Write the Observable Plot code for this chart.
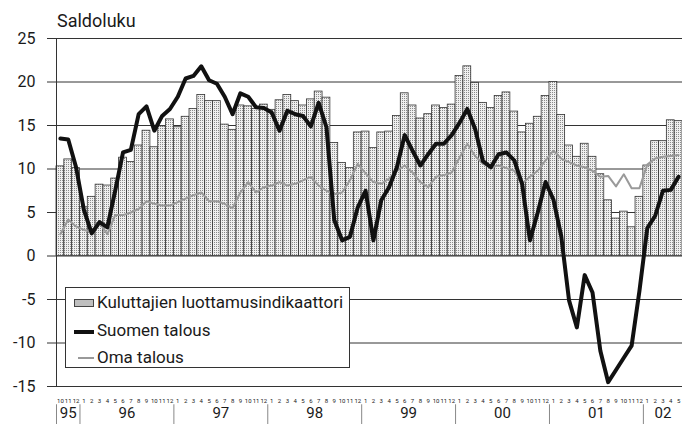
<!DOCTYPE html>
<html><head><meta charset="utf-8">
<script src="https://cdn.jsdelivr.net/npm/d3@7"></script>
<script src="https://cdn.jsdelivr.net/npm/@observablehq/plot@0.6"></script>
<style>
body{margin:0;background:#fff;overflow:hidden;font-family:Roboto,"Liberation Sans",sans-serif;color:#1a1a1a;}
#wrap{position:relative;width:682px;height:424px;}
#title{height:30px;box-sizing:border-box;padding-left:57px;padding-top:12px;font-size:18px;line-height:18px;}
#legend{position:absolute;left:65px;top:287px;width:285px;height:81px;box-sizing:border-box;border:1px solid #333;background:#fff;}
#legend .t{position:absolute;left:31px;font-size:17px;line-height:17px;white-space:nowrap;}
#legend .sw{position:absolute;}
</style></head><body>
<div id="wrap">
<div id="title">Saldoluku</div>
<div id="chart"></div>
<div id="legend">
  <div class="sw" style="left:8px;top:11px;width:20px;height:8px;border:1px solid #444;box-sizing:border-box;background:#eee radial-gradient(#888 0.6px, transparent 0.8px);background-size:2px 2px;"></div>
  <div class="t" style="top:6px">Kuluttajien luottamusindikaattori</div>
  <div class="sw" style="left:8px;top:42px;width:20px;height:4px;background:#111;"></div>
  <div class="t" style="top:34px">Suomen talous</div>
  <div class="sw" style="left:12px;top:69px;width:16px;height:2px;background:#999;"></div>
  <div class="t" style="top:61px">Oma talous</div>
</div>
</div>
<script>
// Month labels (Oct 1995 – May 2002)
const months = ["10","11","12",
  "1","2","3","4","5","6","7","8","9","10","11","12",
  "1","2","3","4","5","6","7","8","9","10","11","12",
  "1","2","3","4","5","6","7","8","9","10","11","12",
  "1","2","3","4","5","6","7","8","9","10","11","12",
  "1","2","3","4","5","6","7","8","9","10","11","12",
  "1","2","3","4","5","6","7","8","9","10","11","12",
  "1","2","3","4","5"];
const years = ["95","96","97","98","99","00","01","02"];
const yearStart = [0,3,15,27,39,51,63,75];
const yTicks = [-15,-10,-5,0,5,10,15,20,25];

// Kuluttajien luottamusindikaattori (bars)
const indikaattori = [10.3, 11.1, 10.1,
  5.6, 6.8, 8.2, 8.1, 8.9, 11.3, 10.8, 12.7, 14.4, 12.5, 14.9, 15.7,
  14.8, 16.0, 16.9, 18.5, 17.8, 17.8, 15.1, 14.5, 17.3, 17.2, 16.9, 17.4,
  16.8, 17.9, 18.5, 17.8, 17.3, 18.0, 18.9, 18.2, 13.0, 10.7, 10.1, 14.2,
  14.3, 12.4, 14.2, 14.3, 16.1, 18.7, 17.3, 15.8, 16.3, 17.3, 17.0, 17.4,
  20.7, 21.8, 19.9, 17.6, 17.0, 18.4, 18.8, 16.6, 14.2, 15.2, 16.0, 18.4,
  20.0, 16.2, 12.7, 11.4, 12.9, 11.4, 9.4, 6.4, 4.3, 5.1, 3.3, 6.8,
  10.4, 13.2, 13.2, 15.6, 15.5];

// Suomen talous (thick black line)
const suomenTalous = [13.5, 13.4, 10.2,
  5.3, 2.6, 3.9, 3.3, 7.5, 11.9, 12.2, 16.3, 17.2, 14.4, 16.1, 16.9,
  18.3, 20.4, 20.7, 21.8, 20.2, 19.8, 18.3, 16.3, 18.7, 18.3, 17.1, 17.0,
  16.5, 14.4, 16.7, 16.3, 16.1, 14.9, 17.6, 14.8, 4.1, 1.8, 2.2, 5.6,
  7.5, 1.8, 6.4, 7.9, 10.2, 13.9, 12.1, 10.4, 11.7, 12.9, 12.9, 13.9,
  15.3, 16.9, 14.6, 10.9, 10.2, 11.7, 11.9, 11.0, 8.3, 1.8, 5.0, 8.5,
  6.5, 2.3, -5.1, -8.2, -2.2, -4.2, -10.9, -14.5, -13.1, -11.7, -10.3, -4.0,
  3.2, 4.6, 7.5, 7.6, 9.1];

// Oma talous (thin grey line)
const omaTalous = [2.5, 4.2, 3.4,
  3.0, 2.8, 3.8, 2.5, 4.7, 4.7, 5.0, 5.4, 6.3, 6.0, 5.8, 5.8,
  6.2, 6.6, 7.0, 7.3, 6.3, 6.3, 6.0, 5.5, 7.3, 8.5, 7.3, 7.9,
  8.1, 8.5, 8.1, 8.3, 8.7, 9.1, 8.1, 7.5, 7.1, 7.3, 8.7, 10.6,
  9.5, 8.5, 8.3, 8.9, 9.8, 10.4, 9.6, 8.5, 7.9, 9.1, 9.3, 9.6,
  11.3, 12.9, 11.5, 10.6, 10.2, 10.4, 10.1, 9.8, 8.3, 9.1, 9.8, 11.0,
  12.1, 11.2, 10.8, 10.4, 10.2, 9.8, 9.1, 9.2, 8.0, 9.4, 7.8, 7.8,
  10.5, 11.2, 11.4, 11.5, 11.6];

const data = months.map((m, i) => ({i, bar: indikaattori[i], suomi: suomenTalous[i], oma: omaTalous[i]}));
const n = months.length;
const yearCenters = yearStart.map((s, k) => (s + (k < years.length - 1 ? yearStart[k + 1] : n) - 1) / 2);
const yearBounds = yearStart.map(s => s - 0.5);

const font = "Roboto, 'Liberation Sans', sans-serif";
const plot = Plot.plot({
  width: 682, height: 394,
  marginTop: 8, marginBottom: 38, marginLeft: 56, marginRight: 0,
  style: {fontFamily: font, color: "#1a1a1a", background: "#fff", overflow: "visible"},
  x: {type: "linear", domain: [-0.5, n - 0.5], axis: null},
  y: {domain: [-15, 25], axis: null},
  marks: [
    Plot.ruleY(yTicks, {stroke: "#333", strokeWidth: 1}),
    Plot.axisY({ticks: yTicks, tickSize: 9, tickPadding: 12, fontSize: 16, tickFormat: d => String(d), stroke: "#333", label: null}),
    Plot.rectY(data, {x1: d => d.i - 0.5, x2: d => d.i + 0.5, y: "bar", fill: "url(#stipple)", stroke: "#333", strokeWidth: 0.8}),
    Plot.ruleX([-0.5], {stroke: "#333", strokeWidth: 1}),
    Plot.lineY(data, {x: "i", y: "oma", stroke: "#9a9a9a", strokeWidth: 2}),
    Plot.lineY(data, {x: "i", y: "suomi", stroke: "#111", strokeWidth: 4, strokeLinejoin: "round"}),
    Plot.axisX({ticks: d3.range(n), tickFormat: i => months[i], tickSize: 0, tickPadding: 12, fontSize: 6, label: null}),
    Plot.axisX({ticks: yearCenters, tickFormat: d => years[yearCenters.indexOf(d)], tickSize: 0, tickPadding: 21, fontSize: 15, label: null}),
    Plot.ruleX(yearBounds, {y1: -17.1, y2: -19.6, stroke: "#888", strokeWidth: 1, clip: false})
  ]
});

const svg = d3.select(plot);
const defs = svg.insert("defs", ":first-child");
const pat = defs.append("pattern").attr("id", "stipple").attr("width", 2).attr("height", 2).attr("patternUnits", "userSpaceOnUse");
pat.append("rect").attr("width", 2).attr("height", 2).attr("fill", "#efefef");
pat.append("rect").attr("width", 1).attr("height", 1).attr("fill", "#8a8a8a");

document.getElementById("chart").append(plot);
</script>
</body></html>
